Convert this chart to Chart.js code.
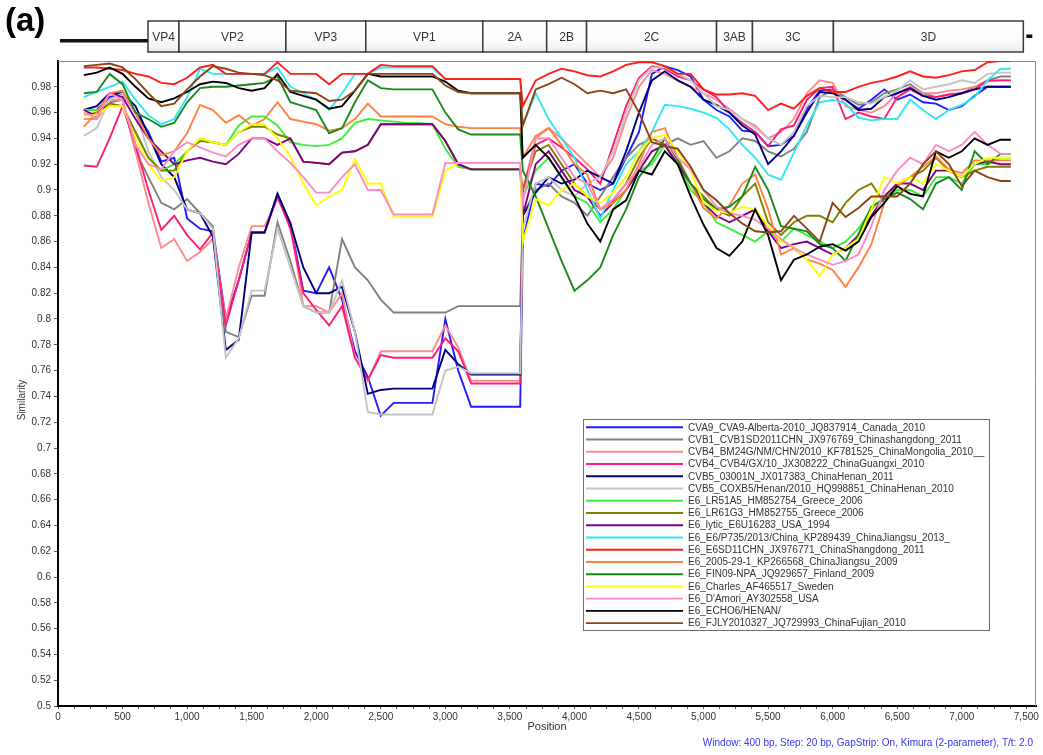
<!DOCTYPE html>
<html>
<head>
<meta charset="utf-8">
<title>SimPlot similarity</title>
<script src="https://cdn.jsdelivr.net/npm/chart.js@4.4.1/dist/chart.umd.min.js"></script>
<style>
  html, body { margin: 0; padding: 0; background: #fff; }
  #wrap { position: relative; width: 1043px; height: 755px; }
</style>
</head>
<body>
<div id="wrap"><canvas id="simplot" width="1043" height="755"></canvas></div>
<script>
// window midpoints (bp)
var positions = [200,300,400,500,600,700,800,900,1000,1100,1200,1300,1400,1500,1600,1700,1800,1900,2000,2100,2200,2300,2400,2500,2600,2700,2800,2900,3000,3100,3200,3300,3400,3500,3580,
  3600,3700,3800,3900,4000,4100,4200,4300,4400,4500,4600,4700,4800,4900,5000,5100,5200,5300,5400,5500,5600,5700,5800,5900,6000,6100,6200,6300,6400,6500,6600,6700,6800,6900,7000,7100,7200,7300,7380];

var cva9 = [0.962,0.962,0.972,0.975,0.96,0.945,0.922,0.925,0.878,0.87,0.868,0.8,0.83,0.867,0.867,0.897,0.874,0.822,0.82,0.84,0.815,0.775,0.755,0.725,0.735,0.735,0.735,0.735,0.8,0.76,0.732,0.732,0.732,0.732,0.732,
  0.86,0.905,0.903,0.915,0.92,0.905,0.9,0.905,0.925,0.945,0.99,0.996,0.993,0.988,0.97,0.962,0.957,0.946,0.945,0.934,0.935,0.942,0.963,0.977,0.978,0.97,0.963,0.97,0.978,0.97,0.974,0.968,0.967,0.962,0.965,0.973,0.98,0.98,0.98];
var cvb1 = [0.955,0.955,0.968,0.97,0.93,0.91,0.89,0.885,0.893,0.882,0.872,0.79,0.786,0.818,0.818,0.875,0.845,0.81,0.805,0.805,0.862,0.84,0.83,0.815,0.805,0.805,0.805,0.805,0.805,0.81,0.81,0.81,0.81,0.81,0.81,
  0.88,0.9,0.905,0.895,0.89,0.88,0.895,0.91,0.925,0.935,0.94,0.935,0.94,0.935,0.938,0.925,0.93,0.94,0.938,0.93,0.926,0.932,0.945,0.972,0.978,0.972,0.966,0.968,0.975,0.978,0.982,0.975,0.972,0.974,0.975,0.98,0.985,0.988,0.988];
var cvb4Bm24g = [0.955,0.955,0.97,0.97,0.93,0.89,0.855,0.862,0.845,0.852,0.862,0.8,0.84,0.872,0.872,0.893,0.875,0.81,0.81,0.805,0.82,0.77,0.752,0.775,0.775,0.775,0.775,0.775,0.795,0.778,0.752,0.752,0.752,0.752,0.752,
  0.9,0.94,0.948,0.94,0.93,0.92,0.91,0.925,0.955,0.98,0.993,0.99,0.985,0.98,0.975,0.97,0.963,0.955,0.95,0.94,0.945,0.955,0.975,0.985,0.983,0.965,0.962,0.96,0.965,0.975,0.98,0.975,0.975,0.977,0.978,0.98,0.984,0.985,0.985];
var cvb4Gx = [0.919,0.918,0.94,0.965,0.935,0.9,0.869,0.88,0.865,0.854,0.867,0.795,0.83,0.867,0.867,0.895,0.87,0.82,0.807,0.795,0.81,0.77,0.753,0.772,0.77,0.77,0.77,0.77,0.785,0.775,0.75,0.75,0.75,0.75,0.75,
  0.9,0.935,0.94,0.933,0.925,0.916,0.905,0.935,0.965,0.987,0.996,0.994,0.988,0.985,0.978,0.972,0.96,0.952,0.945,0.934,0.947,0.95,0.97,0.979,0.98,0.955,0.96,0.957,0.955,0.972,0.978,0.973,0.972,0.974,0.975,0.978,0.985,0.985,0.985];
var cvb5N = [0.962,0.965,0.975,0.975,0.965,0.943,0.92,0.91,0.885,0.882,0.864,0.776,0.784,0.867,0.867,0.897,0.874,0.84,0.82,0.82,0.825,0.79,0.742,0.745,0.746,0.746,0.746,0.746,0.776,0.765,0.757,0.757,0.757,0.757,0.757,
  0.88,0.898,0.91,0.905,0.908,0.915,0.91,0.905,0.93,0.96,0.985,0.992,0.985,0.98,0.97,0.966,0.96,0.95,0.943,0.92,0.93,0.942,0.96,0.976,0.975,0.97,0.962,0.963,0.972,0.975,0.979,0.973,0.97,0.972,0.975,0.978,0.98,0.98,0.98];
var cvb5Coxb5 = [0.942,0.948,0.97,0.975,0.96,0.93,0.91,0.9,0.885,0.882,0.87,0.77,0.785,0.822,0.822,0.87,0.84,0.81,0.805,0.805,0.83,0.79,0.728,0.726,0.726,0.726,0.726,0.726,0.76,0.763,0.758,0.758,0.758,0.758,0.758,
  0.87,0.905,0.91,0.9,0.895,0.905,0.91,0.93,0.96,0.985,0.995,0.995,0.99,0.985,0.975,0.965,0.962,0.955,0.948,0.94,0.935,0.945,0.965,0.973,0.972,0.972,0.968,0.967,0.972,0.977,0.985,0.978,0.98,0.982,0.985,0.983,0.99,0.991,0.991];
var e6Lr51a5 = [0.962,0.962,0.965,0.965,0.945,0.925,0.915,0.92,0.93,0.94,0.937,0.935,0.95,0.957,0.957,0.95,0.937,0.935,0.934,0.935,0.94,0.952,0.955,0.954,0.953,0.952,0.952,0.951,0.932,0.918,0.916,0.916,0.916,0.916,0.916,
  0.895,0.915,0.925,0.91,0.895,0.89,0.875,0.885,0.9,0.915,0.92,0.935,0.92,0.9,0.89,0.875,0.87,0.865,0.86,0.868,0.86,0.87,0.865,0.86,0.855,0.86,0.87,0.885,0.895,0.9,0.9,0.895,0.91,0.91,0.905,0.92,0.92,0.925,0.925];
var e6Lr61g3 = [0.958,0.96,0.967,0.965,0.945,0.925,0.915,0.915,0.93,0.938,0.937,0.935,0.945,0.949,0.949,0.943,0.94,0.922,0.921,0.92,0.929,0.93,0.935,0.951,0.951,0.951,0.951,0.951,0.938,0.92,0.916,0.916,0.916,0.916,0.916,
  0.9,0.93,0.935,0.92,0.905,0.895,0.885,0.892,0.905,0.925,0.94,0.935,0.92,0.905,0.895,0.885,0.88,0.895,0.905,0.875,0.865,0.875,0.88,0.88,0.875,0.89,0.9,0.905,0.89,0.905,0.91,0.915,0.925,0.915,0.91,0.915,0.918,0.918,0.918];
var e6Lytic = [0.962,0.957,0.975,0.972,0.955,0.94,0.93,0.92,0.923,0.925,0.922,0.92,0.928,0.94,0.94,0.935,0.94,0.922,0.921,0.92,0.929,0.93,0.935,0.951,0.951,0.951,0.951,0.951,0.938,0.92,0.916,0.916,0.916,0.916,0.916,
  0.88,0.92,0.93,0.915,0.9,0.895,0.88,0.89,0.9,0.915,0.93,0.935,0.92,0.905,0.89,0.88,0.875,0.88,0.885,0.868,0.855,0.858,0.86,0.855,0.85,0.855,0.865,0.88,0.895,0.905,0.905,0.9,0.915,0.915,0.91,0.92,0.922,0.92,0.92];
var e6P735 = [0.972,0.976,0.98,0.984,0.97,0.958,0.951,0.955,0.972,0.994,0.99,0.99,0.99,0.99,0.99,0.995,0.98,0.975,0.97,0.962,0.975,0.99,0.99,0.995,0.995,0.995,0.995,0.995,0.986,0.986,0.986,0.986,0.986,0.986,0.986,
  0.95,0.975,0.955,0.94,0.925,0.9,0.878,0.9,0.92,0.93,0.945,0.966,0.965,0.963,0.96,0.956,0.947,0.935,0.925,0.912,0.908,0.929,0.95,0.968,0.97,0.967,0.956,0.954,0.955,0.955,0.97,0.962,0.955,0.962,0.966,0.972,0.985,0.994,0.994];
var e6Sd11 = [0.995,0.995,0.994,0.993,0.99,0.988,0.983,0.982,0.987,0.995,0.997,0.99,0.99,0.99,0.99,0.999,0.99,0.99,0.99,0.982,0.99,0.99,0.99,0.997,0.996,0.996,0.996,0.996,0.986,0.986,0.986,0.986,0.986,0.986,0.986,
  0.965,0.985,0.99,0.994,0.992,0.989,0.988,0.992,0.997,0.999,0.999,0.996,0.99,0.99,0.978,0.974,0.974,0.975,0.973,0.962,0.967,0.963,0.973,0.979,0.976,0.976,0.98,0.983,0.985,0.988,0.992,0.988,0.987,0.989,0.992,0.993,0.999,1.0,1.0];
var e6Js2005 = [0.949,0.96,0.975,0.977,0.96,0.94,0.927,0.93,0.944,0.966,0.962,0.952,0.958,0.95,0.955,0.968,0.955,0.953,0.951,0.946,0.948,0.955,0.967,0.957,0.957,0.957,0.957,0.957,0.951,0.949,0.948,0.948,0.948,0.948,0.948,
  0.925,0.942,0.948,0.935,0.92,0.912,0.885,0.89,0.9,0.92,0.945,0.948,0.925,0.905,0.886,0.878,0.888,0.905,0.912,0.885,0.85,0.855,0.846,0.843,0.838,0.825,0.84,0.858,0.89,0.903,0.91,0.918,0.926,0.916,0.913,0.923,0.923,0.923,0.923];
var e6Fin09 = [0.975,0.976,0.99,0.982,0.96,0.955,0.949,0.952,0.968,0.979,0.98,0.98,0.981,0.982,0.983,0.988,0.968,0.965,0.962,0.944,0.948,0.968,0.985,0.979,0.978,0.978,0.978,0.978,0.96,0.947,0.943,0.943,0.943,0.943,0.943,
  0.915,0.895,0.87,0.845,0.822,0.83,0.84,0.865,0.885,0.91,0.923,0.94,0.923,0.905,0.893,0.885,0.887,0.895,0.918,0.9,0.872,0.87,0.868,0.858,0.855,0.845,0.866,0.887,0.893,0.898,0.893,0.885,0.905,0.91,0.9,0.93,0.92,0.928,0.928];
var e6Charles = [0.958,0.958,0.965,0.965,0.94,0.92,0.907,0.91,0.93,0.94,0.937,0.935,0.945,0.951,0.951,0.94,0.926,0.905,0.888,0.895,0.9,0.924,0.905,0.905,0.879,0.879,0.879,0.879,0.915,0.921,0.921,0.921,0.921,0.921,0.921,
  0.86,0.893,0.888,0.9,0.905,0.895,0.89,0.898,0.91,0.93,0.94,0.943,0.93,0.915,0.89,0.884,0.882,0.887,0.885,0.872,0.86,0.856,0.846,0.833,0.85,0.855,0.862,0.885,0.91,0.905,0.91,0.905,0.92,0.915,0.91,0.92,0.925,0.925,0.925];
var e6Damori = [0.96,0.956,0.975,0.97,0.935,0.92,0.916,0.93,0.937,0.933,0.929,0.926,0.935,0.94,0.94,0.93,0.921,0.91,0.898,0.898,0.91,0.92,0.9,0.9,0.881,0.881,0.881,0.881,0.921,0.921,0.921,0.921,0.921,0.921,0.921,
  0.89,0.94,0.94,0.925,0.91,0.905,0.885,0.893,0.905,0.917,0.935,0.94,0.925,0.916,0.9,0.887,0.882,0.88,0.877,0.87,0.862,0.855,0.85,0.846,0.842,0.845,0.85,0.872,0.9,0.915,0.925,0.92,0.935,0.93,0.935,0.945,0.935,0.928,0.928];
var e6Echo6 = [0.989,0.991,0.995,0.99,0.98,0.971,0.968,0.971,0.976,0.982,0.984,0.983,0.979,0.977,0.979,0.99,0.976,0.973,0.97,0.963,0.965,0.977,0.99,0.988,0.988,0.988,0.988,0.988,0.984,0.977,0.975,0.975,0.975,0.975,0.975,
  0.925,0.935,0.925,0.91,0.895,0.874,0.86,0.885,0.892,0.915,0.912,0.93,0.92,0.895,0.873,0.855,0.849,0.86,0.885,0.865,0.83,0.846,0.85,0.856,0.858,0.853,0.86,0.879,0.89,0.903,0.897,0.895,0.93,0.925,0.93,0.94,0.935,0.939,0.939];
var e6Fjly = [0.996,0.997,0.998,0.995,0.986,0.975,0.965,0.967,0.978,0.988,0.996,0.994,0.991,0.99,0.989,0.985,0.977,0.976,0.975,0.969,0.97,0.977,0.99,0.99,0.99,0.99,0.99,0.99,0.981,0.976,0.975,0.975,0.975,0.975,0.975,
  0.95,0.978,0.982,0.987,0.982,0.975,0.977,0.975,0.978,0.96,0.937,0.934,0.932,0.918,0.9,0.892,0.882,0.874,0.868,0.867,0.868,0.88,0.87,0.86,0.89,0.879,0.886,0.895,0.895,0.895,0.905,0.92,0.93,0.92,0.903,0.915,0.91,0.907,0.907];

var seriesNames = [
  'CVA9_CVA9-Alberta-2010_JQ837914_Canada_2010',
  'CVB1_CVB1SD2011CHN_JX976769_Chinashangdong_2011',
  'CVB4_BM24G/NM/CHN/2010_KF781525_ChinaMongolia_2010__',
  'CVB4_CVB4/GX/10_JX308222_ChinaGuangxi_2010',
  'CVB5_03001N_JX017383_ChinaHenan_2011',
  'CVB5_COXB5/Henan/2010_HQ998851_ChinaHenan_2010',
  'E6_LR51A5_HM852754_Greece_2006',
  'E6_LR61G3_HM852755_Greece_2006',
  'E6_lytic_E6U16283_USA_1994',
  'E6_E6/P735/2013/China_KP289439_ChinaJiangsu_2013_',
  'E6_E6SD11CHN_JX976771_ChinaShangdong_2011',
  'E6_2005-29-1_KP266568_ChinaJiangsu_2009',
  'E6_FIN09-NPA_JQ929657_Finland_2009',
  'E6_Charles_AF465517_Sweden',
  "E6_D'Amori_AY302558_USA",
  'E6_ECHO6/HENAN/',
  'E6_FJLY2010327_JQ729993_ChinaFujian_2010'
];
var seriesColors = ['#1e1eff','#808080','#ff8a8a','#ff1a75','#00007f','#c4c4c4','#3cee3c','#808000','#800080',
  '#30e8f0','#ff1e1e','#ff8040','#1a8a1a','#ffff00','#ff88c8','#000000','#8b4513'];
var seriesValues = [cva9, cvb1, cvb4Bm24g, cvb4Gx, cvb5N, cvb5Coxb5, e6Lr51a5, e6Lr61g3, e6Lytic,
  e6P735, e6Sd11, e6Js2005, e6Fin09, e6Charles, e6Damori, e6Echo6, e6Fjly];

// genome map (bp)
var regionNames  = ['VP4','VP2','VP3','VP1','2A','2B','2C','3AB','3C','3D'];
var regionStarts = [697, 937, 1765, 2384, 3290, 3785, 4094, 5101, 5379, 6006];
var regionEnd = 7477;

var xLabelTicks = [0,500,1000,1500,2000,2500,3000,3500,4000,4500,5000,5500,6000,6500,7000,7500];
var yTicks = [0.5,0.52,0.54,0.56,0.58,0.6,0.62,0.64,0.66,0.68,0.7,0.72,0.74,0.76,0.78,0.8,0.82,0.84,0.86,0.88,0.9,0.92,0.94,0.96,0.98];

seriesValues.forEach(function (s, i) {
  if (s.length !== positions.length) throw new Error('series ' + i + ' has ' + s.length + ' values');
});

Chart.defaults.font.family = '"Liberation Sans", Arial, sans-serif';
Chart.defaults.color = '#333';

var datasets = seriesValues.map(function (vals, i) {
  return {
    label: seriesNames[i],
    data: positions.map(function (p, j) { return { x: p, y: vals[j] }; }),
    borderColor: seriesColors[i],
    borderWidth: 1.9,
    pointRadius: 0,
    tension: 0,
    fill: false,
    order: seriesValues.length - i   // later strains drawn on top
  };
});

var extras = {
  id: 'extras',
  beforeDatasetsDraw: function (chart) {
    var a = chart.chartArea, ctx = chart.ctx;
    ctx.save();
    ctx.strokeStyle = '#8c8c8c';
    ctx.lineWidth = 1;
    ctx.beginPath();
    ctx.moveTo(a.left, a.top + 0.5);
    ctx.lineTo(a.right - 0.5, a.top + 0.5);
    ctx.lineTo(a.right - 0.5, a.bottom);
    ctx.stroke();
    ctx.restore();
  },
  afterDraw: function (chart) {
    var ctx = chart.ctx, xs = chart.scales.x, a = chart.chartArea;
    ctx.save();

    // panel letter
    ctx.fillStyle = '#000';
    ctx.font = 'bold 33px "Liberation Sans", Arial, sans-serif';
    ctx.textAlign = 'left';
    ctx.textBaseline = 'alphabetic';
    ctx.fillText('(a)', 5, 31);

    // genome map
    var boxTop = 21, boxBottom = 52;
    var first = xs.getPixelForValue(regionStarts[0]);
    ctx.fillStyle = '#111';
    ctx.fillRect(xs.getPixelForValue(15), 39, first - xs.getPixelForValue(15), 3.5);
    var endPx = xs.getPixelForValue(regionEnd);
    ctx.fillRect(endPx + 3, 34.5, 6, 3.5);
    var grad = ctx.createLinearGradient(0, boxTop, 0, boxBottom);
    grad.addColorStop(0, '#ffffff');
    grad.addColorStop(0.6, '#fdfdfd');
    grad.addColorStop(1, '#ececec');
    ctx.font = '12px "Liberation Sans", Arial, sans-serif';
    ctx.textAlign = 'center';
    ctx.textBaseline = 'middle';
    for (var i = 0; i < regionNames.length; i++) {
      var x0 = xs.getPixelForValue(regionStarts[i]);
      var x1 = xs.getPixelForValue(i + 1 < regionNames.length ? regionStarts[i + 1] : regionEnd);
      ctx.fillStyle = grad;
      ctx.fillRect(x0, boxTop, x1 - x0, boxBottom - boxTop);
      ctx.strokeStyle = '#3a3a3a';
      ctx.lineWidth = 1.5;
      ctx.strokeRect(x0, boxTop, x1 - x0, boxBottom - boxTop);
      ctx.fillStyle = '#333';
      ctx.fillText(regionNames[i], (x0 + x1) / 2, 37.5);
    }

    // axis titles
    ctx.fillStyle = '#333';
    ctx.font = '10px "Liberation Sans", Arial, sans-serif';
    ctx.save();
    ctx.translate(22, 400);
    ctx.rotate(-Math.PI / 2);
    ctx.fillText('Similarity', 0, 0);
    ctx.restore();
    ctx.font = '11px "Liberation Sans", Arial, sans-serif';
    ctx.fillText('Position', (a.left + a.right) / 2, 727);

    // footer
    ctx.fillStyle = '#3434f0';
    ctx.font = '10px "Liberation Sans", Arial, sans-serif';
    ctx.textAlign = 'right';
    ctx.fillText('Window: 400 bp, Step: 20 bp, GapStrip: On, Kimura (2-parameter), T/t: 2.0', 1033, 743);

    // legend box
    var lx = 583, ly = 419, lw = 406, lh = 211;
    ctx.fillStyle = '#fff';
    ctx.fillRect(lx, ly, lw, lh);
    ctx.strokeStyle = '#6e6e6e';
    ctx.lineWidth = 1;
    ctx.strokeRect(lx + 0.5, ly + 0.5, lw, lh);
    ctx.textAlign = 'left';
    ctx.font = '10px "Liberation Sans", Arial, sans-serif';
    for (var k = 0; k < seriesNames.length; k++) {
      var yy = 427.3 + k * 12.24;
      ctx.strokeStyle = seriesColors[k];
      ctx.lineWidth = 1.9;
      ctx.beginPath();
      ctx.moveTo(586, yy);
      ctx.lineTo(683, yy);
      ctx.stroke();
      ctx.fillStyle = '#333';
      ctx.fillText(seriesNames[k], 688, yy + 0.5);
    }
    ctx.restore();
  }
};

new Chart(document.getElementById('simplot').getContext('2d'), {
  type: 'line',
  data: { datasets: datasets },
  options: {
    responsive: false,
    animation: false,
    events: [],
    layout: { padding: { top: 61, right: 7, left: 0, bottom: 0 } },
    plugins: { legend: { display: false }, tooltip: { enabled: false }, title: { display: false } },
    scales: {
      x: {
        type: 'linear',
        min: 0,
        max: 7575,
        afterBuildTicks: function (scale) {
          var t = [];
          for (var v = 0; v <= 7500; v += 125) t.push({ value: v });
          scale.ticks = t;
        },
        afterFit: function (scale) { scale.height = 49; },
        ticks: {
          autoSkip: false,
          maxRotation: 0,
          padding: 2,
          font: { size: 10 },
          color: '#333',
          callback: function (v) {
            return xLabelTicks.indexOf(v) >= 0 ? v.toLocaleString('en-US') : '';
          }
        },
        grid: { display: true, drawOnChartArea: false, drawTicks: true, tickLength: 3, color: '#555' },
        border: { display: true, color: '#000', width: 2 }
      },
      y: {
        type: 'linear',
        min: 0.5,
        max: 1.0,
        afterBuildTicks: function (scale) {
          scale.ticks = yTicks.map(function (v) { return { value: v }; });
        },
        afterFit: function (scale) { scale.width = 58; },
        ticks: {
          autoSkip: false,
          padding: 3,
          font: { size: 10 },
          color: '#333',
          callback: function (v) { return String(v); }
        },
        grid: { display: true, drawOnChartArea: false, drawTicks: true, tickLength: 4, color: '#555' },
        border: { display: true, color: '#000', width: 2 }
      }
    }
  },
  plugins: [extras]
});
</script>
</body>
</html>
